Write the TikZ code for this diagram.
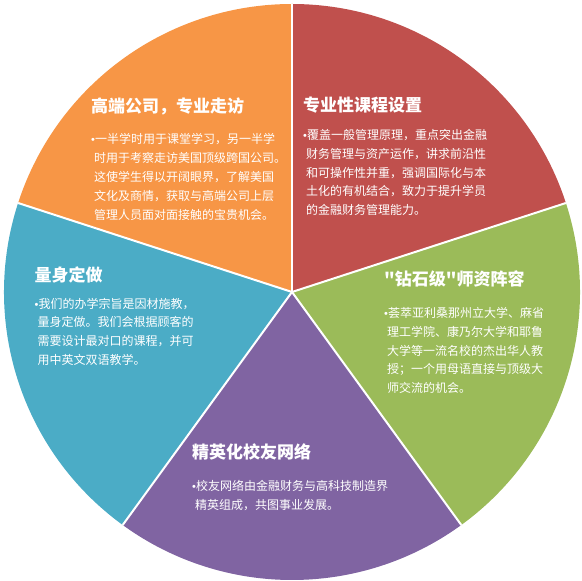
\documentclass[tikz,border=0pt]{standalone}
\usepackage{fontspec}
\usetikzlibrary{calc}
\newfontfamily\cjk{Noto Sans CJK SC}
\newfontfamily\latinf{Liberation Sans}
\definecolor{cOrange}{HTML}{F79646}
\definecolor{cRed}{HTML}{C0504D}
\definecolor{cGreen}{HTML}{9BBB59}
\definecolor{cPurple}{HTML}{8064A2}
\definecolor{cBlue}{HTML}{4BACC6}
\newcommand{\bl}{{\latinf\fontsize{11}{11}\selectfont •}}
\newcommand{\ci}{\hspace*{3pt}}
\tikzset{
  titletext/.style={anchor=base west, inner sep=0pt, text=white, font=\cjk\bfseries\fontsize{17}{18}\selectfont},
  bodytext/.style={anchor=base west, inner sep=0pt, text=white, font=\cjk\fontsize{12}{18.8}\selectfont},
  sep/.style={draw=white, line width=2pt}
}
\newcommand{\lines}[1]{\vtop{\baselineskip=18.8pt\lineskiplimit=-10pt #1}}
\begin{document}
\begin{tikzpicture}[x=1pt,y=1pt]
\useasboundingbox (0,0) rectangle (582,581);
\def\R{288}
\coordinate (C) at (292,289);
\fill[cRed] (C) -- ++(90:\R pt) arc[start angle=90, end angle=18, radius=\R pt] -- cycle;
\fill[cGreen] (C) -- ++(18:\R pt) arc[start angle=18, end angle=-54, radius=\R pt] -- cycle;
\fill[cPurple] (C) -- ++(-54:\R pt) arc[start angle=-54, end angle=-126, radius=\R pt] -- cycle;
\fill[cBlue] (C) -- ++(-126:\R pt) arc[start angle=-126, end angle=-198, radius=\R pt] -- cycle;
\fill[cOrange] (C) -- ++(162:\R pt) arc[start angle=162, end angle=90, radius=\R pt] -- cycle;
\foreach \a/\n in {90/p1,18/p2,-54/p3,-126/p4,162/p5}{
  \coordinate (\n) at ($(C)+(\a:\R pt)$);
}
\draw[sep] (C) -- (p1);
\draw[sep] (C) -- (p2);
\draw[sep] (C) -- (p3);
\draw[sep] (C) -- (p4);
\draw[sep] (C) -- (p5);

\node[titletext] (t1) at (91,468.5) {高端公司，专业走访};
\node[bodytext] (b1) at (91,437) {\lines{%
\hbox{\bl 一半学时用于课堂学习，另一半学}
\hbox{\ci 时用于考察走访美国顶级跨国公司。}
\hbox{\ci 这使学生得以开阔眼界，了解美国}
\hbox{\ci 文化及商情，获取与高端公司上层}
\hbox{\ci 管理人员面对面接触的宝贵机会。}}};

\node[titletext] (t2) at (303,469.5) {专业性课程设置};
\node[bodytext] (b2) at (303,441.5) {\lines{%
\hbox{\bl 覆盖一般管理原理，重点突出金融}
\hbox{\ci 财务管理与资产运作，讲求前沿性}
\hbox{\ci 和可操作性并重，强调国际化与本}
\hbox{\ci 土化的有机结合，致力于提升学员}
\hbox{\ci 的金融财务管理能力。}}};

\node[titletext] (t3) at (384,295.5) {"钻石级"师资阵容};
\node[bodytext] (b3) at (384,263.5) {\lines{%
\hbox{\bl 荟萃亚利桑那州立大学、麻省}
\hbox{\ci 理工学院、康乃尔大学和耶鲁}
\hbox{\ci 大学等一流名校的杰出华人教}
\hbox{\ci 授；一个用母语直接与顶级大}
\hbox{\ci 师交流的机会。}}};

\node[titletext] (t4) at (34.5,299) {量身定做};
\node[bodytext] (b4) at (34.5,272.8) {\lines{%
\hbox{\bl 我们的办学宗旨是因材施教，}
\hbox{\ci 量身定做。我们会根据顾客的}
\hbox{\ci 需要设计最对口的课程，并可}
\hbox{\ci 用中英文双语教学。}}};

\node[titletext] (t5) at (192,122) {精英化校友网络};
\node[bodytext] (b5) at (192,90.5) {\lines{%
\hbox{\bl 校友网络由金融财务与高科技制造界}
\hbox{\ci 精英组成，共图事业发展。}}};
\end{tikzpicture}
\end{document}
